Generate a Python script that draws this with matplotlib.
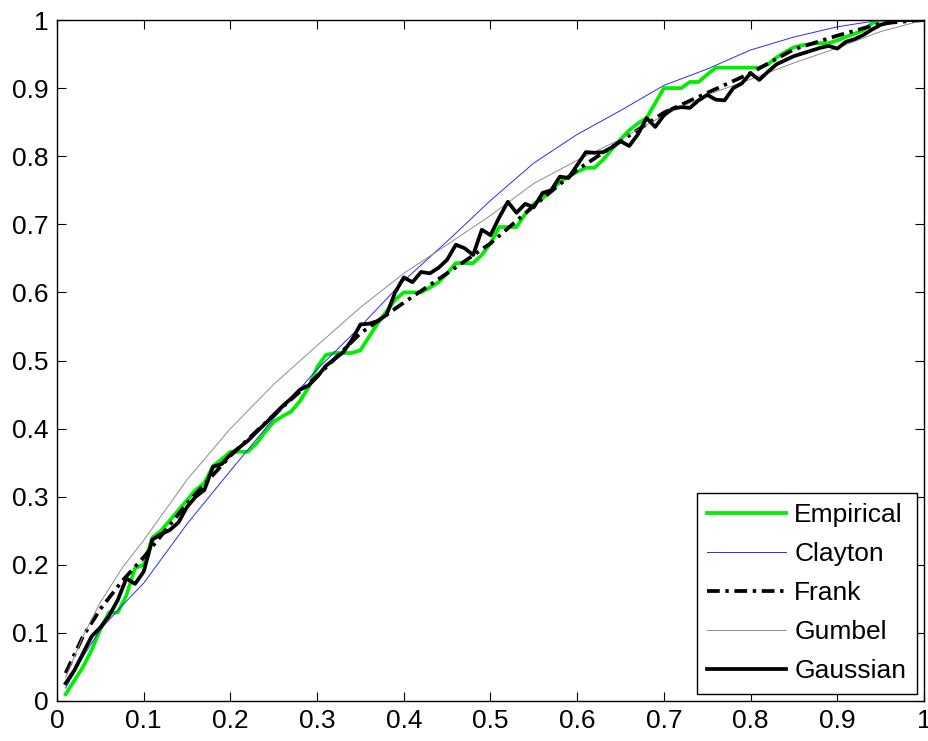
import numpy as np
import matplotlib
matplotlib.use('Agg')
import matplotlib.pyplot as plt
from matplotlib.ticker import FormatStrFormatter

plt.rcParams['font.family'] = ['Liberation Sans', 'DejaVu Sans']

# x grid of the empirical / gaussian series
t = np.linspace(0.01, 1.0, 100)

empirical = [0.01, 0.03, 0.05, 0.075, 0.105, 0.13, 0.13, 0.155, 0.195, 0.20,
             0.24, 0.25, 0.265, 0.28, 0.295, 0.31, 0.32, 0.345, 0.355, 0.366,
             0.366, 0.366, 0.378, 0.395, 0.41, 0.418, 0.425, 0.44, 0.46, 0.49,
             0.508, 0.511, 0.511, 0.511, 0.515, 0.535, 0.555, 0.572, 0.589, 0.60,
             0.60, 0.60, 0.607, 0.615, 0.628, 0.643, 0.643, 0.643, 0.655, 0.672,
             0.696, 0.696, 0.696, 0.715, 0.73, 0.738, 0.75, 0.762, 0.77, 0.777,
             0.783, 0.783, 0.795, 0.81, 0.825, 0.838, 0.848, 0.856, 0.878, 0.90,
             0.90, 0.90, 0.909, 0.909, 0.92, 0.93, 0.93, 0.93, 0.93, 0.93,
             0.93, 0.935, 0.945, 0.953, 0.96, 0.963, 0.965, 0.966, 0.966, 0.97,
             0.975, 0.98, 0.985, 0.995, 1.0, 1.0, 1.0, 1.0, 1.0, 1.0]

gaussian = [0.026, 0.045, 0.07, 0.095, 0.108, 0.125, 0.148, 0.18, 0.172, 0.19,
            0.237, 0.245, 0.251, 0.262, 0.285, 0.30, 0.31, 0.344, 0.348, 0.362,
            0.372, 0.382, 0.395, 0.407, 0.42, 0.433, 0.444, 0.457, 0.463, 0.476,
            0.492, 0.502, 0.512, 0.53, 0.553, 0.554, 0.558, 0.567, 0.60, 0.622,
            0.615, 0.63, 0.628, 0.636, 0.648, 0.67, 0.665, 0.655, 0.692, 0.684,
            0.71, 0.733, 0.717, 0.73, 0.725, 0.746, 0.75, 0.77, 0.768, 0.787,
            0.806, 0.805, 0.806, 0.813, 0.822, 0.815, 0.832, 0.856, 0.843, 0.86,
            0.87, 0.872, 0.871, 0.882, 0.89, 0.883, 0.882, 0.90, 0.907, 0.922,
            0.912, 0.924, 0.935, 0.941, 0.947, 0.951, 0.955, 0.959, 0.962, 0.958,
            0.968, 0.972, 0.978, 0.986, 0.993, 0.996, 1.0, 1.0, 1.0, 1.0]

# smooth fitted curves, read at coarser steps
s = [0.01, 0.03, 0.05, 0.075, 0.10, 0.15, 0.20, 0.25, 0.30, 0.35, 0.40, 0.45, 0.50,
     0.55, 0.60, 0.65, 0.70, 0.75, 0.80, 0.85, 0.90, 0.95, 1.00]
clayton = [0.019, 0.065, 0.105, 0.14, 0.173, 0.26, 0.338, 0.415, 0.487, 0.55, 0.617,
           0.675, 0.735, 0.79, 0.832, 0.867, 0.904, 0.928, 0.956, 0.975, 0.99, 1.0, 1.0]
frank = [0.041, 0.095, 0.135, 0.176, 0.211, 0.29, 0.36, 0.42, 0.477, 0.54, 0.585,
         0.628, 0.672, 0.727, 0.78, 0.822, 0.864, 0.893, 0.922, 0.957, 0.977, 0.995, 1.0]
gumbel = [0.035, 0.095, 0.145, 0.195, 0.236, 0.325, 0.40, 0.465, 0.522, 0.578, 0.628,
          0.67, 0.713, 0.76, 0.794, 0.825, 0.86, 0.89, 0.913, 0.937, 0.959, 0.983, 1.0]

fig = plt.figure(figsize=(9.29, 7.41), dpi=100)
ax = fig.add_axes([57 / 929, 40 / 741, 867 / 929, 681 / 741])

ax.plot(t, empirical, color='#00ee00', lw=2.7, label='Empirical')
ax.plot(s, clayton, color='#2a2aff', lw=0.7, label='Clayton')
ax.plot(s, frank, color='k', lw=2.7, linestyle=(0, (3.4, 1.5, 0.9, 1.5)), label='Frank')
ax.plot(s, gumbel, color='#8c8c8c', lw=0.7, label='Gumbel')
ax.plot(t, gaussian, color='k', lw=2.7, label='Gaussian')

ax.set_xlim(0, 1)
ax.set_ylim(0, 1)
ax.set_xticks(np.arange(0, 1.01, 0.1))
ax.set_yticks(np.arange(0, 1.01, 0.1))
fmt = FormatStrFormatter('%g')
ax.xaxis.set_major_formatter(fmt)
ax.yaxis.set_major_formatter(fmt)
ax.tick_params(direction='in', length=6.5, width=0.8, top=True, right=True,
               labelsize=19, pad=6)
for sp in ax.spines.values():
    sp.set_linewidth(1.0)

leg = ax.legend(loc='lower right', fontsize=19, handlelength=3.0, handletextpad=0.3,
                labelspacing=0.57, borderpad=0.4, borderaxespad=0.27,
                fancybox=False, framealpha=1, edgecolor='k')
leg.get_frame().set_linewidth(1.0)

fig.savefig('out.png', dpi=100)
